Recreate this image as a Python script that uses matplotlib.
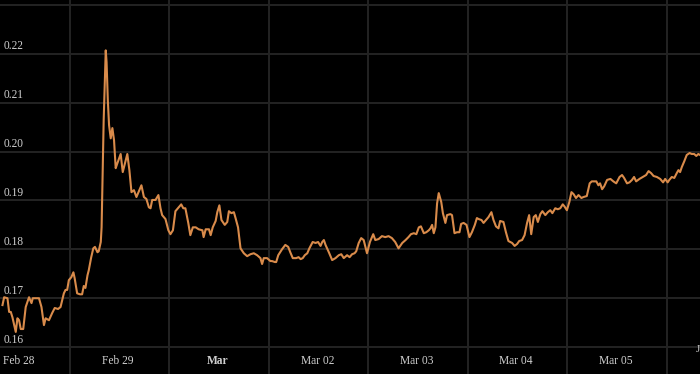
import matplotlib

matplotlib.use("Agg")
import matplotlib.pyplot as plt
from matplotlib import transforms

# hours since Feb 28 00:00 and the price at that time
hours = [
    -3.9, -3.5, -2.7, -2.3, -1.9, -1.5, -0.7, -0.3, 0.1, 0.5, 1.1, 1.7, 2.5, 3.1, 3.4,
    4.9, 5.5, 6.1, 6.5, 7.3, 8.1, 8.7, 9.5, 10.1, 10.9, 11.3, 11.7, 12.1, 12.7, 13.2,
    13.5, 14.1, 14.8, 15.3, 15.7, 16.1, 16.6, 16.9, 17.5, 18.0, 18.4, 19.0, 19.3, 19.8,
    20.0, 20.5, 21.0, 21.2, 21.5, 21.8, 22.2, 22.6, 23.0, 23.4, 23.8, 24.6, 25.1, 26.2,
    26.7, 27.2, 27.8, 28.4, 28.8, 29.6, 30.2, 30.8, 31.4, 31.8, 32.2, 33.0, 33.7, 34.2,
    34.6, 35.4, 36.1, 36.6, 37.2, 37.8, 38.6, 39.2, 39.7, 40.2, 40.9, 41.4, 42.0, 42.7,
    43.4, 44.3, 44.6, 45.1, 45.9, 46.3, 46.8, 47.5, 47.9, 48.4, 48.9, 49.7, 50.3, 50.7,
    51.3, 51.9, 52.3, 52.9, 53.5, 54.3, 55.1, 55.9, 56.7, 57.5, 58.3, 58.7, 59.1, 59.9,
    60.7, 61.1, 61.8, 62.1, 62.6, 63.5, 64.3, 65.0, 65.5, 66.1, 66.9, 67.5, 68.0, 68.5,
    69.0, 69.6, 70.1, 70.9, 71.6, 72.2, 72.8, 73.2, 73.6, 74.0, 74.8, 75.6, 76.4, 77.2,
    77.8, 78.4, 79.2, 79.8, 80.4, 81.0, 81.4, 82.0, 82.6, 83.2, 84.0, 84.7, 85.5, 86.0,
    86.8, 87.6, 88.4, 89.2, 90.0, 90.8, 91.6, 92.5, 93.3, 94.0, 94.6, 95.3, 95.9, 96.5,
    97.0, 97.7, 98.3, 98.9, 99.3, 99.7, 100.1, 100.5, 100.9, 101.3, 101.9, 102.3, 102.9,
    103.3, 104.1, 104.5, 105.1, 105.7, 106.3, 106.7, 107.3, 108.0, 108.7, 109.3, 110.0,
    110.5, 110.9, 111.6, 112.1, 112.7, 113.3, 114.0, 114.5, 115.1, 115.7, 116.1, 116.9,
    117.5, 118.1, 119.0, 119.6, 120.2, 120.7, 121.4, 122.0, 122.6, 123.1, 123.6, 124.2,
    124.7, 125.2, 125.8, 126.3, 127.0, 127.6, 128.2, 128.7, 129.4, 130.0, 130.6, 131.2,
    131.6, 132.2, 132.8, 133.3, 133.8, 134.4, 135.0, 135.7, 136.2, 137.0, 137.7, 138.2,
    139.3, 139.8, 140.2, 140.7, 141.2, 141.9, 142.7, 143.4, 144.1, 144.9, 145.5, 146.0,
    146.7, 147.3, 147.9, 148.4, 148.9, 149.7, 150.5, 151.3, 151.9, 152.5, 153.1, 153.9,
    154.7, 155.4, 155.9, 156.5, 156.9, 157.5, 158.1, 158.7, 159.1, 159.5, 159.9, 160.5,
    161.1, 161.8, 162.3, 162.9, 163.4, 163.9, 164.3,
]
prices = [
    0.1686, 0.1702, 0.1700, 0.1672, 0.1672, 0.1661, 0.1631, 0.1659, 0.1655, 0.1637,
    0.1637, 0.1682, 0.1702, 0.1690, 0.1700, 0.1700, 0.1682, 0.1645, 0.1659, 0.1655,
    0.1670, 0.1680, 0.1678, 0.1682, 0.1710, 0.1717, 0.1717, 0.1737, 0.1743, 0.1753,
    0.1741, 0.1710, 0.1708, 0.1708, 0.1725, 0.1721, 0.1747, 0.1757, 0.1784, 0.1802,
    0.1805, 0.1794, 0.1796, 0.1815, 0.1845, 0.2064, 0.2207, 0.2183, 0.2105, 0.2054,
    0.2027, 0.2048, 0.2023, 0.1966, 0.1976, 0.1995, 0.1958, 0.1995, 0.1962, 0.1917,
    0.1921, 0.1907, 0.1915, 0.1931, 0.1907, 0.1903, 0.1886, 0.1884, 0.1901, 0.1901,
    0.1911, 0.1884, 0.1870, 0.1862, 0.1839, 0.1831, 0.1839, 0.1878, 0.1886, 0.1892,
    0.1884, 0.1884, 0.1854, 0.1829, 0.1845, 0.1845, 0.1841, 0.1839, 0.1825, 0.1841,
    0.1841, 0.1829, 0.1845, 0.1858, 0.1876, 0.1890, 0.1860, 0.1850, 0.1856, 0.1878,
    0.1874, 0.1876, 0.1864, 0.1845, 0.1802, 0.1792, 0.1786, 0.1790, 0.1792, 0.1788,
    0.1782, 0.1770, 0.1782, 0.1782, 0.1776, 0.1776, 0.1774, 0.1774, 0.1788, 0.1800,
    0.1809, 0.1805, 0.1794, 0.1782, 0.1782, 0.1784, 0.1780, 0.1782, 0.1788, 0.1792,
    0.1802, 0.1815, 0.1813, 0.1815, 0.1807, 0.1815, 0.1819, 0.1809, 0.1794, 0.1778,
    0.1782, 0.1788, 0.1790, 0.1782, 0.1788, 0.1784, 0.1790, 0.1792, 0.1796, 0.1813,
    0.1823, 0.1819, 0.1792, 0.1815, 0.1831, 0.1819, 0.1821, 0.1827, 0.1825, 0.1827,
    0.1823, 0.1815, 0.1802, 0.1813, 0.1819, 0.1825, 0.1831, 0.1833, 0.1831, 0.1845,
    0.1847, 0.1833, 0.1835, 0.1839, 0.1843, 0.1850, 0.1833, 0.1845, 0.1894, 0.1915,
    0.1897, 0.1874, 0.1854, 0.1870, 0.1872, 0.1870, 0.1833, 0.1835, 0.1835, 0.1852,
    0.1854, 0.1850, 0.1825, 0.1835, 0.1850, 0.1864, 0.1862, 0.1860, 0.1854, 0.1860,
    0.1866, 0.1876, 0.1860, 0.1847, 0.1843, 0.1858, 0.1856, 0.1835, 0.1817, 0.1813,
    0.1807, 0.1811, 0.1817, 0.1819, 0.1829, 0.1854, 0.1870, 0.1831, 0.1866, 0.1870,
    0.1856, 0.1872, 0.1878, 0.1870, 0.1876, 0.1880, 0.1874, 0.1884, 0.1882, 0.1884,
    0.1892, 0.1888, 0.1880, 0.1897, 0.1917, 0.1913, 0.1905, 0.1911, 0.1905, 0.1907,
    0.1909, 0.1935, 0.1939, 0.1939, 0.1931, 0.1935, 0.1923, 0.1929, 0.1942, 0.1944,
    0.1939, 0.1935, 0.1948, 0.1952, 0.1946, 0.1935, 0.1937, 0.1942, 0.1948, 0.1939,
    0.1944, 0.1948, 0.1952, 0.1960, 0.1956, 0.1950, 0.1948, 0.1944, 0.1937, 0.1944,
    0.1937, 0.1942, 0.1948, 0.1946, 0.1956, 0.1962, 0.1958, 0.1968, 0.1980, 0.1993,
    0.1997, 0.1995, 0.1995, 0.1991, 0.1995, 0.1993,
]

day_labels = ["Feb 28", "Feb 29", "Mar", "Mar 02", "Mar 03", "Mar 04", "Mar 05"]
price_ticks = [0.16, 0.17, 0.18, 0.19, 0.20, 0.21, 0.22, 0.23]
price_labels = ["0.16", "0.17", "0.18", "0.19", "0.20", "0.21", "0.22", ""]

line_color = "#d98b4b"
grid_color = "#232323"
text_color = "#cfcfcf"
font = ["Liberation Serif", "DejaVu Serif"]

fig = plt.figure(figsize=(7.0, 3.74), dpi=100, facecolor="black")
ax = fig.add_axes([0, 0, 1, 1])
ax.set_facecolor("black")
ax.set_xlim(-4.5, 164.3)
ax.set_ylim(0.1545, 0.2310)

# grid: vertical lines at noon, horizontal at each price tick
for k in range(7):
    ax.axvline(12.3 + 24 * k, color=grid_color, lw=1.4, zorder=1)
for value in price_ticks:
    ax.axhline(value, color=grid_color, lw=1.4, zorder=1)

ax.plot(hours, prices, color=line_color, lw=1.5, zorder=3)

for spine in ax.spines.values():
    spine.set_visible(False)
ax.set_xticks([])
ax.set_yticks([])

# y labels sit just above their grid line at the left edge
y_trans = transforms.blended_transform_factory(ax.transAxes, ax.transData)
for value, label in zip(price_ticks, price_labels):
    ax.text(4 / 700, value + 0.0003, label, transform=y_trans, ha="left", va="bottom",
            color=text_color, fontsize=8.3, family=font, zorder=4)

# x labels at midnight of each day
x_trans = transforms.blended_transform_factory(ax.transData, ax.transAxes)
for k, label in enumerate(day_labels):
    weight = "bold" if label == "Mar" else "normal"
    ax.text(24 * k, 13 / 374, label, transform=x_trans, ha="center", va="center",
            color=text_color, fontsize=8.3, family=font, fontweight=weight, zorder=4)
ax.text(696 / 700, 24 / 374, "J", transform=ax.transAxes, ha="left", va="center",
        color=text_color, fontsize=8, family=font, zorder=4)

fig.savefig("out.png", dpi=100, facecolor="black")
